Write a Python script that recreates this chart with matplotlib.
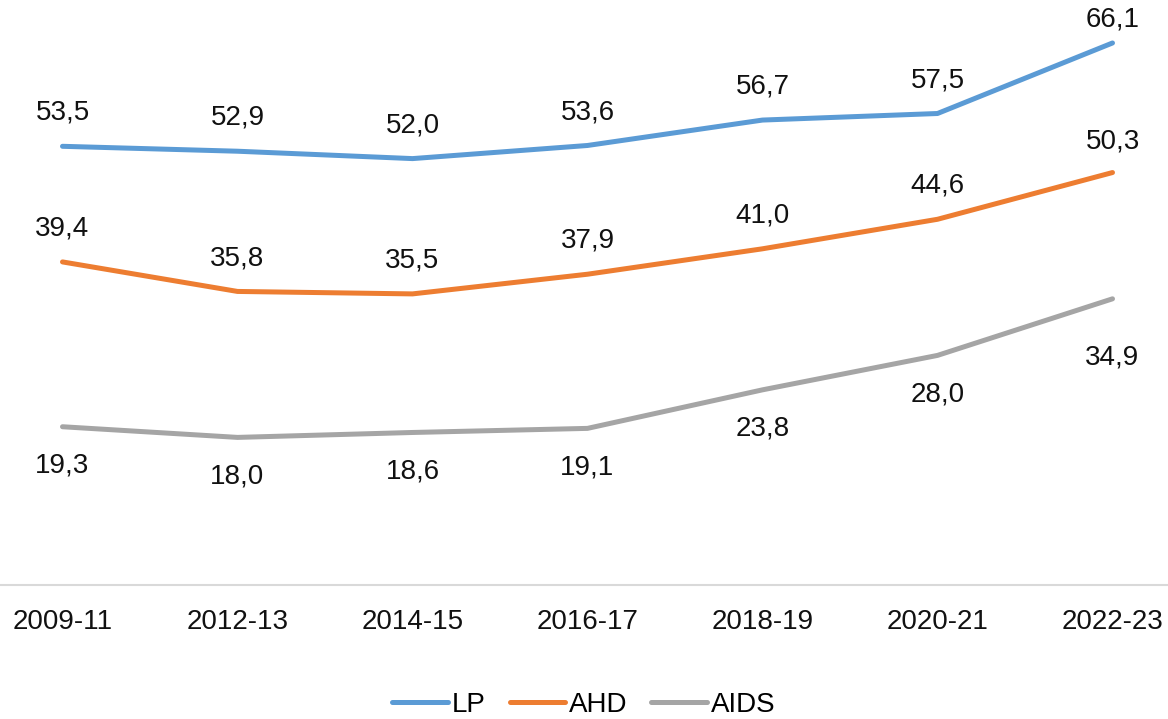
import matplotlib.pyplot as plt
import numpy as np

plt.rcParams['font.family'] = ['Liberation Sans', 'DejaVu Sans']

periods = ["2009-11", "2012-13", "2014-15", "2016-17", "2018-19", "2020-21", "2022-23"]
lp = [53.5, 52.9, 52.0, 53.6, 56.7, 57.5, 66.1]
ahd = [39.4, 35.8, 35.5, 37.9, 41.0, 44.6, 50.3]
aids = [19.3, 18.0, 18.6, 19.1, 23.8, 28.0, 34.9]

W, H = 1168, 719
fig = plt.figure(figsize=(W / 100, H / 100), dpi=100)
# plot area is wider than the picture (cropped in the original)
ax = fig.add_axes([-25 / W, (H - 585) / H, 1225 / W, 574 / H])

x = np.arange(len(periods))
fs = 20

series = [
    ("LP", lp, "#5B9BD5", 24),
    ("AHD", ahd, "#ED7D31", 24),
    ("AIDS", aids, "#A5A5A5", -28),
]

for name, vals, col, off in series:
    ax.plot(x, vals, color=col, lw=3.6, label=name, solid_capstyle="round")
    for i, v in enumerate(vals):
        txt = f"{v:.1f}".replace(".", ",")
        dy = off
        # excel pushes the last labels around a bit
        if i == len(vals) - 1:
            dy = {"LP": 17, "AHD": 22, "AIDS": -42}[name]
        ax.annotate(txt, (x[i], v), xytext=(0, dy), textcoords="offset points",
                    ha="center", va="center", fontsize=fs, color="#111111")

ax.set_xlim(-0.5, len(periods) - 0.5)
ax.set_ylim(0, 70)
ax.set_xticks(x)
ax.set_xticklabels(periods, fontsize=fs, color="#111111")
ax.tick_params(axis="x", length=0, pad=17)
ax.set_yticks([])
for s in ["top", "right", "left"]:
    ax.spines[s].set_visible(False)
ax.spines["bottom"].set_color("#D9D9D9")
ax.spines["bottom"].set_linewidth(1.5)

fig.legend(loc="center", bbox_to_anchor=(0.5, 1 - 705 / H), ncol=3, frameon=False,
           fontsize=fs, handlelength=2.0, handletextpad=0.15, columnspacing=0.85)

fig.savefig("out.png", dpi=100)
